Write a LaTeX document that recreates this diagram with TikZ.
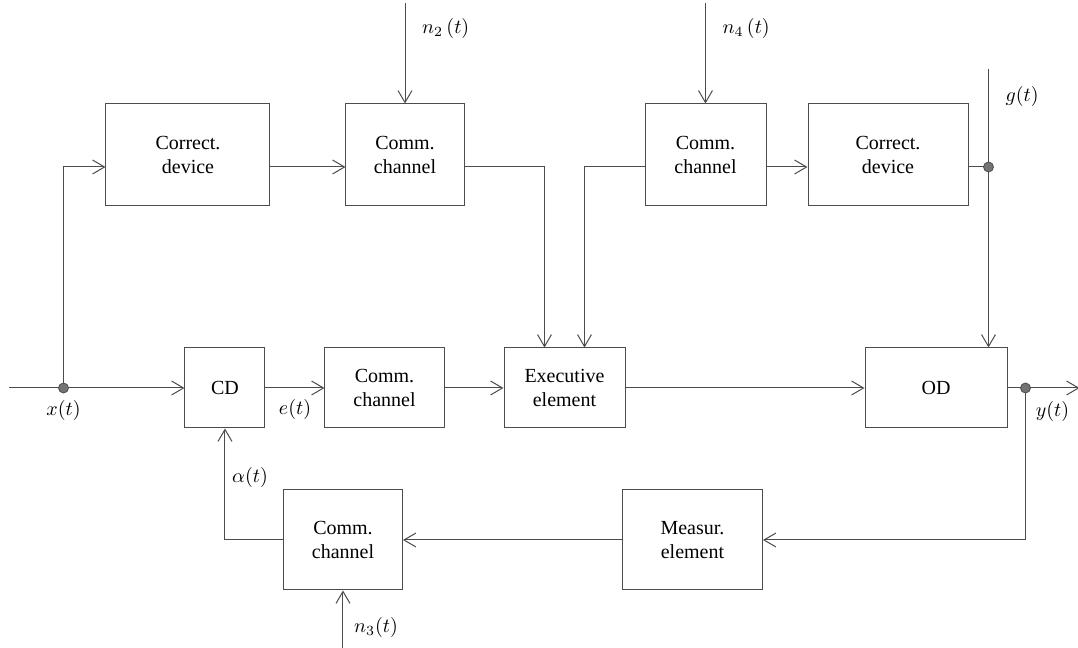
\documentclass[tikz,border=0pt]{standalone}
\usepackage{fontspec}
\setmainfont{Liberation Serif}
\newfontfamily\boxfont{Liberation Serif}
\usepackage{tikz}
\usetikzlibrary{positioning, arrows.meta}
\tikzstyle{block} = [rectangle, minimum height=40pt, text centered, align=center, font=\boxfont, draw=black!70, line width=0.5pt, inner sep=2pt]
\tikzstyle{wire} = [line width=0.5pt, draw=black!70]
\tikzstyle{arrow} = [wire, ->, >={Straight Barb[length=6pt,width=7pt]}]
\tikzstyle{junction} = [circle, fill=black!55, draw=black!70, inner sep=0pt, minimum size=5pt]

\begin{document}
\begin{tikzpicture}[node distance=30pt]
            \useasboundingbox (-112.5pt,-130pt) rectangle (426.5pt,194pt);
            \node (cd) [block, minimum width=40pt] {CD};
            \node (chan1) [block, minimum width=59.5pt, right=29.5pt of cd] {Comm.\\channel};
            \node (exe) [block, minimum width=60.5pt, right=29.5pt of chan1] {Executive\\element};
            \node (od) [block, minimum width=71pt, right=119.5pt of exe] {OD};
            \node (cor1) [block, minimum width=82pt, minimum height=51pt, above=70.5pt of cd, xshift=-18.5pt] {Correct.\\device};
            \node (chan2) [block, minimum width=59pt, minimum height=51pt, right=37.5pt of cor1] {Comm.\\channel};
            \node (chan4) [block, minimum width=60.5pt, minimum height=51pt, right=90pt of chan2] {Comm.\\channel};
            \node (cor2) [block, minimum width=80pt, minimum height=51pt, right=20.5pt of chan4] {Correct.\\device};
            \node (chan3) [block, minimum width=59.5pt, minimum height=50pt, below=30.5pt of cd, xshift=59pt] {Comm.\\channel};
            \node (meas) [block, minimum width=70pt, minimum height=50pt, right=109.5pt of chan3] {Measur.\\element};
            \coordinate [left=87.5pt of cd.west] (xin);
            \coordinate [left=60.5pt of cd.west] (xdot);
            \coordinate [above=50pt of chan2.north] (n2);
            \coordinate [above=50pt of chan4.north] (n4);
            \coordinate [right=10pt of cor2.east, yshift=-6pt] (gdot);
            \coordinate [above=49pt of gdot] (gin);
            \coordinate [right=9pt of od.east] (ydot);
            \coordinate [right=27pt of ydot] (yout);
            \coordinate [below=30pt of chan3.south] (n3);

            \draw [arrow] (xin) -- (cd);
            \draw [arrow] (xdot) |- ([yshift=-6pt]cor1.west);
            \draw [arrow] ([yshift=-6pt]cor1.east) -- ([yshift=-6pt]chan2.west);
            \draw [arrow] (n2) -- node[pos=0.25, right=5pt] {$n_2\,(t)$} (chan2);
            \draw [arrow] ([yshift=-6pt]chan2.east) -| ([xshift=-10pt]exe.north);
            \draw [arrow] (n4) -- node[pos=0.25, right=5pt] {$n_4\,(t)$} (chan4);
            \draw [arrow] ([yshift=-6pt]chan4.west) -| ([xshift=10pt]exe.north);
            \draw [arrow] ([yshift=-6pt]chan4.east) -- ([yshift=-6pt]cor2.west);
            \draw [wire] ([yshift=-6pt]cor2.east) -- (gdot);
            \draw [wire] (gin) -- node[pos=0.28, right=5pt] {$g(t)$} (gdot);
            \draw [arrow] (gdot) -- (gdot |- od.north);
            \draw [arrow] (cd) -- node[below=2pt] {$e(t)$} (chan1);
            \draw [arrow] (chan1) -- (exe);
            \draw [arrow] (exe) -- (od);
            \draw [wire] (od) -- (ydot);
            \draw [arrow] (ydot) -- node[below=3pt] {$y(t)$} (yout);
            \draw [arrow] (ydot) |- (meas);
            \draw [arrow] (meas) -- (chan3);
            \draw [arrow] (chan3) -| node[pos=0.78, right] {$\alpha(t)$} (cd);
            \draw [arrow] (n3) -- node[pos=0.38, right=2pt] {$n_3(t)$} (chan3);
            \node (xj) [junction, label={below:$x(t)$}] at (xdot) {};
            \node (gj) [junction] at (gdot) {};
            \node (yj) [junction] at (ydot) {};
        \end{tikzpicture}
\end{document}
